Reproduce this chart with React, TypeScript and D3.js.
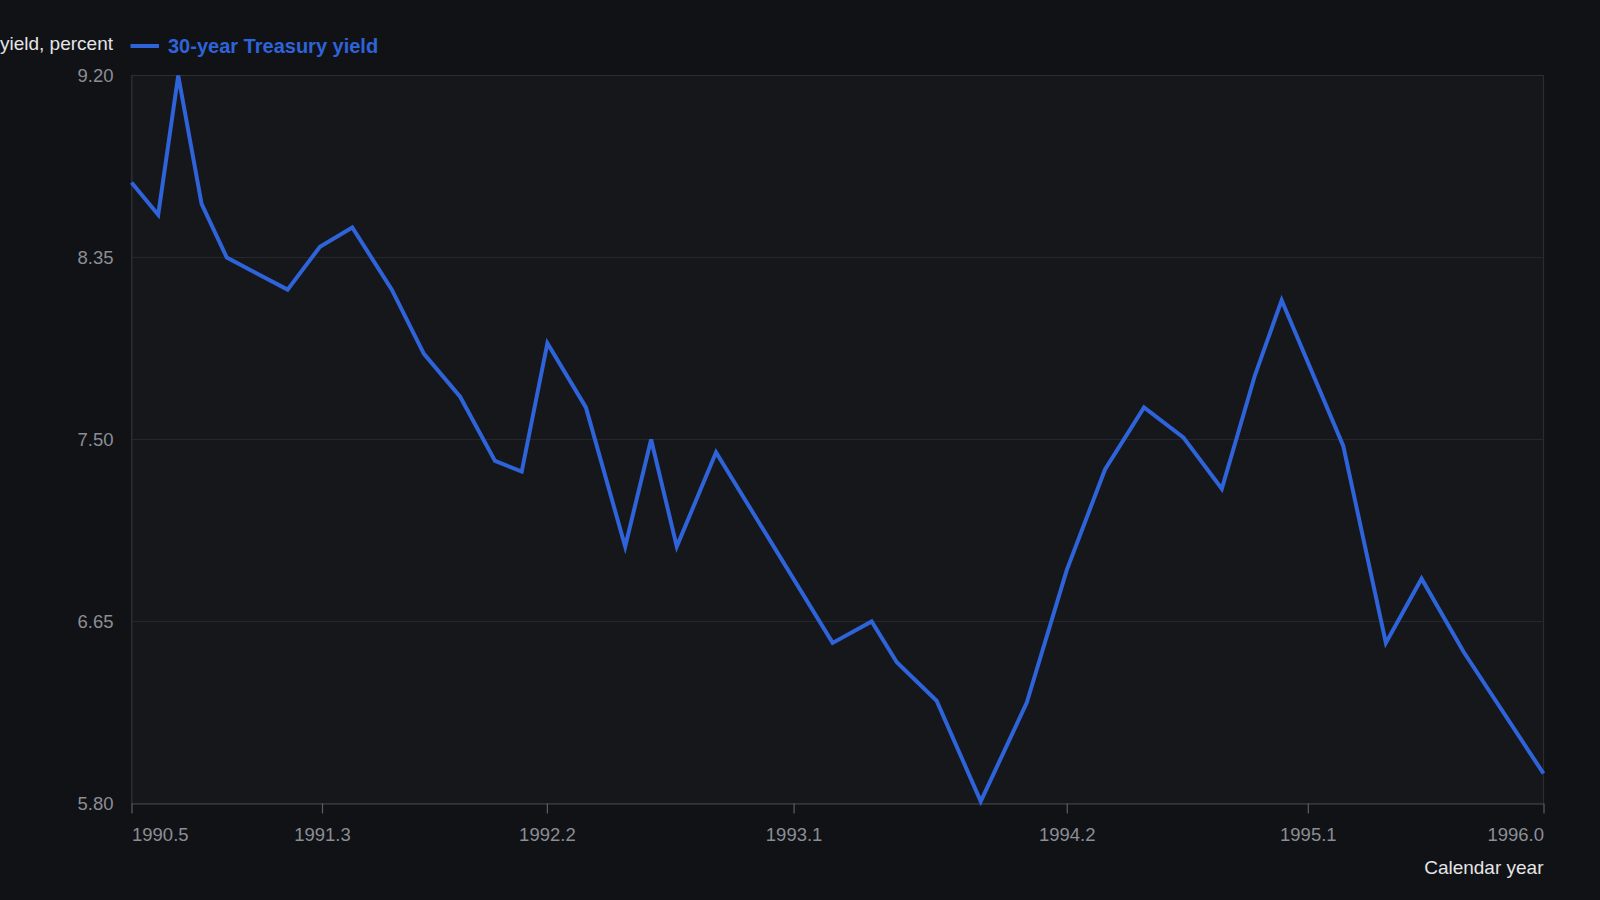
import React, { useEffect, useRef } from 'react';
import * as d3 from 'd3';

// decimal year of each observation
const years = [
  1990.5, 1990.604, 1990.682, 1990.773, 1990.871, 1991.108, 1991.234, 1991.36,
  1991.514, 1991.639, 1991.78, 1991.916, 1992.02, 1992.12, 1992.27, 1992.423,
  1992.524, 1992.624, 1992.777, 1993.231, 1993.383, 1993.481, 1993.636, 1993.808,
  1993.987, 1994.143, 1994.292, 1994.444, 1994.597, 1994.747, 1994.876, 1994.98,
  1995.22, 1995.386, 1995.525, 1995.688, 1996.0,
];

// 30-year Treasury yield, percent
const yields = [
  8.7, 8.55, 9.2, 8.6, 8.35, 8.2, 8.4, 8.49,
  8.2, 7.9, 7.7, 7.4, 7.35, 7.95, 7.65, 7.0,
  7.5, 7.0, 7.44, 6.55, 6.65, 6.46, 6.28, 5.81,
  6.27, 6.89, 7.36, 7.65, 7.51, 7.27, 7.8, 8.15,
  7.47, 6.55, 6.85, 6.51, 5.94,
];

const xTickValues = [1990.5, 1991.242, 1992.118, 1993.079, 1994.143, 1995.082, 1996.0];
const xTickLabels = ['1990.5', '1991.3', '1992.2', '1993.1', '1994.2', '1995.1', '1996.0'];
const yTickValues = [5.8, 6.65, 7.5, 8.35, 9.2];

const seriesName = '30-year Treasury yield';
const yTitle = 'yield, percent';
const xTitle = 'Calendar year';

type Point = { year: number; value: number };

const App: React.FC = () => {
  const svgRef = useRef<SVGSVGElement | null>(null);

  useEffect(() => {
    const width = 1600;
    const height = 900;
    const margin = { top: 75.5, right: 56.5, bottom: 96.5, left: 131.5 };
    const font = '"Liberation Sans", Arial, sans-serif';
    const blue = '#2e63d9';

    const data: Point[] = years.map((y, i) => ({ year: y, value: yields[i] }));

    const xScale = d3.scaleLinear()
      .domain([1990.5, 1996.0])
      .range([margin.left, width - margin.right]);

    const yScale = d3.scaleLinear()
      .domain([5.8, 9.2])
      .range([height - margin.bottom, margin.top]);

    const svg = d3.select(svgRef.current)
      .attr('width', width)
      .attr('height', height);

    svg.selectAll('*').remove();

    svg.append('rect')
      .attr('width', width)
      .attr('height', height)
      .attr('fill', '#111215');

    // plot area
    svg.append('rect')
      .attr('x', margin.left)
      .attr('y', margin.top)
      .attr('width', width - margin.left - margin.right)
      .attr('height', height - margin.top - margin.bottom)
      .attr('fill', '#15171b')
      .attr('stroke', '#2a2c31')
      .attr('stroke-width', 1.2);

    // gridlines
    svg.append('g')
      .selectAll('line')
      .data(yTickValues.slice(1, -1))
      .join('line')
      .attr('x1', margin.left)
      .attr('x2', width - margin.right)
      .attr('y1', d => yScale(d))
      .attr('y2', d => yScale(d))
      .attr('stroke', '#25272c')
      .attr('stroke-width', 1.2);

    // y axis labels
    const yAxis = svg.append('g')
      .attr('transform', `translate(${margin.left},0)`)
      .call(d3.axisLeft(yScale).tickValues(yTickValues).tickFormat(d3.format('.2f')).tickSize(0).tickPadding(18));
    yAxis.select('.domain').attr('stroke', '#2a2c31').attr('stroke-width', 1.2);
    yAxis.selectAll('text')
      .attr('fill', '#8a8e95')
      .attr('font-size', 18.5)
      .attr('font-family', font);

    // x axis
    const xAxis = svg.append('g')
      .attr('transform', `translate(0,${height - margin.bottom})`)
      .call(
        d3.axisBottom(xScale)
          .tickValues(xTickValues)
          .tickFormat((_, i) => xTickLabels[i])
          .tickSize(10)
          .tickSizeOuter(0)
          .tickPadding(14)
      );
    xAxis.select('.domain').attr('stroke', '#34363b').attr('stroke-width', 1.5);
    xAxis.selectAll('.tick line').attr('stroke', '#5a5e65').attr('stroke-width', 1.2);
    xAxis.selectAll('text')
      .attr('fill', '#8a8e95')
      .attr('font-size', 18.5)
      .attr('font-family', font);
    xAxis.selectAll<SVGTextElement, number>('text')
      .attr('text-anchor', (_, i) => (i === 0 ? 'start' : i === xTickValues.length - 1 ? 'end' : 'middle'));

    // line
    const line = d3.line<Point>()
      .x(d => xScale(d.year))
      .y(d => yScale(d.value));

    svg.append('path')
      .datum(data)
      .attr('fill', 'none')
      .attr('stroke', blue)
      .attr('stroke-width', 4)
      .attr('stroke-linejoin', 'miter')
      .attr('d', line);

    // y title
    svg.append('text')
      .attr('x', 113)
      .attr('y', 43)
      .attr('text-anchor', 'end')
      .attr('dominant-baseline', 'central')
      .attr('fill', '#e4e5e7')
      .attr('font-size', 19)
      .attr('font-family', font)
      .text(yTitle);

    // legend
    svg.append('line')
      .attr('x1', 130.5)
      .attr('x2', 159)
      .attr('y1', 46)
      .attr('y2', 46)
      .attr('stroke', blue)
      .attr('stroke-width', 4);

    svg.append('text')
      .attr('x', 168)
      .attr('y', 46)
      .attr('dominant-baseline', 'central')
      .attr('fill', blue)
      .attr('font-size', 20)
      .attr('font-weight', 'bold')
      .attr('font-family', font)
      .text(seriesName);

    // x title
    svg.append('text')
      .attr('x', width - margin.right)
      .attr('y', 867)
      .attr('text-anchor', 'end')
      .attr('dominant-baseline', 'central')
      .attr('fill', '#e4e5e7')
      .attr('font-size', 19)
      .attr('font-family', font)
      .text(xTitle);
  }, []);

  return (
    <div style={{ position: 'fixed', left: 0, top: 0, width: 1600, height: 900, background: '#111215' }}>
      <svg ref={svgRef} style={{ display: 'block' }}></svg>
    </div>
  );
};

export default App;
